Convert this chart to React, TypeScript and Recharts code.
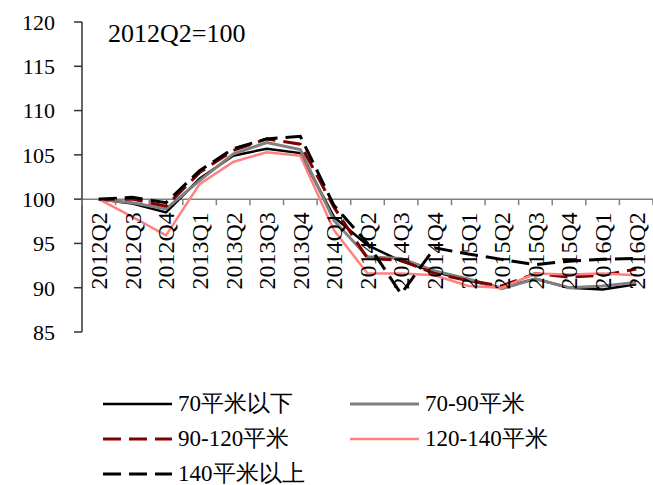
import React from 'react'
import {
   LineChart,
   Line,
   XAxis,
   YAxis,
   Legend,
   ReferenceLine,
} from 'recharts'

const quarters = [
   '2012Q2', '2012Q3', '2012Q4', '2013Q1', '2013Q2', '2013Q3', '2013Q4',
   '2014Q1', '2014Q2', '2014Q3', '2014Q4', '2015Q1', '2015Q2', '2015Q3',
   '2015Q4', '2016Q1', '2016Q2',
]
const below70 = [100, 99.5, 98.5, 102.3, 104.9, 105.7, 105.2, 98.0, 94.8, 93.0, 91.8, 90.8, 90.0, 91.0, 90.0, 89.8, 90.4]
const from70to90 = [100, 99.6, 98.9, 102.1, 105.1, 106.4, 105.6, 97.6, 93.5, 93.3, 91.9, 91.0, 89.9, 91.0, 90.0, 90.2, 90.6]
const from90to120 = [100, 100, 99.2, 103.0, 105.5, 106.8, 106.2, 99.1, 93.3, 93.1, 91.6, 90.8, 90.2, 91.6, 91.2, 91.4, 92.1]
const from120to140 = [100, 98.0, 95.9, 101.7, 104.2, 105.3, 104.9, 96.5, 91.6, 91.6, 91.4, 90.2, 90.0, 91.6, 91.5, 91.6, 91.4]
const above140 = [100, 100.2, 99.6, 103.2, 105.7, 106.8, 107.1, 99.3, 95.0, 89.3, 94.5, 93.8, 93.2, 92.6, 93.0, 93.2, 93.3]

const yTicks = [85, 90, 95, 100, 105, 110, 115, 120]
const baseValue = 100
const note = '2012Q2=100'

const series = [
   { key: 'a', name: '70平米以下', values: below70, color: '#000000', dash: undefined, width: 2.5 },
   { key: 'b', name: '70-90平米', values: from70to90, color: '#808080', dash: undefined, width: 3 },
   { key: 'c', name: '90-120平米', values: from90to120, color: '#800000', dash: '18 8', width: 3 },
   { key: 'd', name: '120-140平米', values: from120to140, color: '#ff8080', dash: undefined, width: 2.5 },
   { key: 'e', name: '140平米以上', values: above140, color: '#000000', dash: '18 8', width: 3 },
]

const data = quarters.map((q, i) => {
   const row: Record<string, string | number> = { q }
   series.forEach((s) => {
      row[s.key] = s.values[i]
   })
   return row
})

const W = 653
const H = 485
const margin = { top: 22, right: 0, bottom: 0, left: 0 }
const yAxisW = 82
const xAxisH = 153
const plotW = W - margin.left - margin.right - yAxisW
const plotH = H - margin.top - margin.bottom - xAxisH
const band = plotW / quarters.length
const yMin = 85
const yMax = 120
const font = "'Liberation Serif', serif"

const CatTick = (props: any) => {
   const { x, y, payload, index } = props
   // category axis crosses the value axis at 100
   const y0 = y - (plotH * (baseValue - yMin)) / (yMax - yMin)
   const ty = y0 + 13
   return (
      <g>
         <line x1={x - band / 2} x2={x - band / 2} y1={y0} y2={y0 + 6} stroke="#808080" strokeWidth={1.5} />
         {index === quarters.length - 1 && (
            <line x1={x + band / 2} x2={x + band / 2} y1={y0} y2={y0 + 6} stroke="#808080" strokeWidth={1.5} />
         )}
         <text
            x={x}
            y={ty}
            dy="0.35em"
            textAnchor="end"
            transform={`rotate(-90 ${x} ${ty})`}
            style={{ fontSize: 24, fontFamily: font }}
            fill="#000"
         >
            {payload.value}
         </text>
      </g>
   )
}

const LegendBox = () => (
   <div
      style={{
         display: 'grid',
         gridTemplateColumns: '247px 247px',
         paddingLeft: 103,
         fontFamily: font,
         fontSize: 23,
         lineHeight: '24px',
         color: '#000',
      }}
   >
      {series.map((s) => (
         <div key={s.key} style={{ display: 'flex', alignItems: 'center', height: 35 }}>
            <svg width={69} height={6} style={{ marginRight: 6 }}>
               <line x1={0} x2={69} y1={3} y2={3} stroke={s.color} strokeWidth={s.width} strokeDasharray={s.dash} />
            </svg>
            <span>{s.name}</span>
         </div>
      ))}
   </div>
)

const App = () => {
   return (
      <div style={{ position: 'absolute', left: 0, top: 0, width: W, height: H, background: '#fff', overflow: 'hidden' }}>
         <LineChart width={W} height={H} data={data} margin={margin}>
            <XAxis
               dataKey="q"
               interval={0}
               height={xAxisH}
               padding={{ left: band / 2, right: band / 2 }}
               axisLine={false}
               tickLine={false}
               tickSize={0}
               tickMargin={0}
               tick={<CatTick />}
            />
            <YAxis
               width={yAxisW}
               domain={[yMin, yMax]}
               ticks={yTicks}
               tickSize={8}
               tickMargin={19}
               axisLine={{ stroke: '#333', strokeWidth: 1.5 }}
               tickLine={{ stroke: '#333', strokeWidth: 1.5 }}
               tick={{ fill: '#000', style: { fontSize: 22, fontFamily: font } }}
            />
            <ReferenceLine y={baseValue} stroke="#808080" strokeWidth={1.5} />
            {series.map((s) => (
               <Line
                  key={s.key}
                  type="linear"
                  dataKey={s.key}
                  name={s.name}
                  stroke={s.color}
                  strokeWidth={s.width}
                  strokeDasharray={s.dash}
                  dot={false}
                  activeDot={false}
                  isAnimationActive={false}
               />
            ))}
            <Legend
               layout="horizontal"
               verticalAlign="middle"
               align="center"
               wrapperStyle={{ top: 386, left: 0, width: W }}
               content={<LegendBox />}
            />
            <text x={108} y={42} style={{ fontSize: 26, fontFamily: font }} fill="#000">
               {note}
            </text>
         </LineChart>
      </div>
   )
}

export default App
